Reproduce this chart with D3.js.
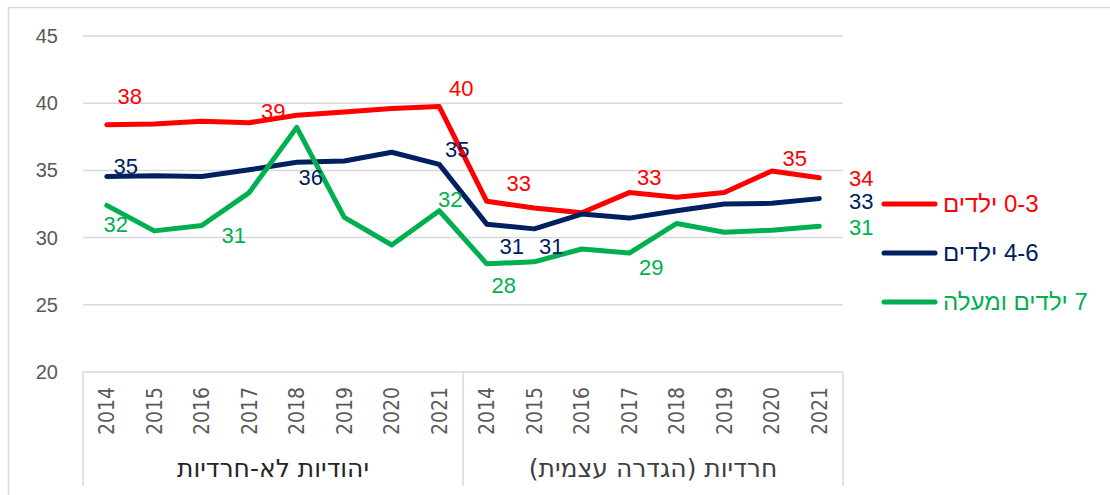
<!DOCTYPE html>
<html>
<head>
<meta charset="utf-8">
<script src="https://cdn.jsdelivr.net/npm/d3@7"></script>
<style>
  body { margin: 0; background: #fff; }
  svg { font-family: "Liberation Sans", Arial, sans-serif; }
</style>
</head>
<body>
<div id="chart"></div>
<script>
// data
var years = ["2014", "2015", "2016", "2017", "2018", "2019", "2020", "2021"];
var groups = ["יהודיות לא-חרדיות", "חרדיות (הגדרה עצמית)"];
var seriesNames = ["0-3 ילדים", "4-6 ילדים", "7 ילדים ומעלה"];
var kids03 = [38.4, 38.45, 38.65, 38.55, 39.1, 39.35, 39.6, 39.75, 32.7, 32.2, 31.85, 33.35, 33.0, 33.35, 34.95, 34.45];
var kids46 = [34.55, 34.6, 34.55, 35.05, 35.6, 35.7, 36.35, 35.45, 31.0, 30.65, 31.75, 31.45, 32.0, 32.5, 32.55, 32.9];
var kids7 = [32.4, 30.5, 30.9, 33.35, 38.2, 31.5, 29.45, 32.0, 28.05, 28.2, 29.15, 28.85, 31.05, 30.4, 30.55, 30.85];
// which points carry a data label
var labeled03 = [0, 3, 7, 8, 11, 14, 15];
var labeled46 = [0, 4, 7, 8, 9, 15];
var labeled7 = [0, 2, 7, 8, 11, 15];
var yTicks = [20, 25, 30, 35, 40, 45];

var width = 1110, height = 495;
var colors = ["#FF0000", "#002060", "#00B050"];

// label offsets from the point (px), by series and index
var offsets = [
  {0: [23, -28], 3: [24, -11], 7: [22, -18], 8: [32, -18], 11: [20, -15], 14: [23, -13], 15: [42, 1]},
  {0: [19, -10], 4: [14, 15], 7: [18, -15], 8: [25, 22], 9: [17, 17], 15: [42, 3]},
  {0: [9, 19], 2: [32, 10], 7: [11, -11], 8: [17, 21], 11: [22, 14], 15: [42, 1]}
];

var cats = [];
groups.forEach(function(g, gi) {
  years.forEach(function(y) { cats.push(gi + "-" + y); });
});

var x = d3.scaleBand().domain(cats).range([83, 843]);
var y = d3.scaleLinear().domain([20, 45]).range([372, 36]);
var cx = function(i) { return x(cats[i]) + x.bandwidth() / 2; };

var svg = d3.select("#chart").append("svg")
    .attr("width", width)
    .attr("height", height);

// chart border
svg.append("rect")
    .attr("x", 8.5).attr("y", 7.5)
    .attr("width", width).attr("height", height)
    .attr("fill", "none")
    .attr("stroke", "#D9D9D9")
    .attr("stroke-width", 1.5);

// gridlines
svg.append("g").selectAll("line")
    .data(yTicks.filter(function(t) { return t > 20; }))
  .enter().append("line")
    .attr("x1", 83).attr("x2", 843)
    .attr("y1", function(d) { return y(d); })
    .attr("y2", function(d) { return y(d); })
    .attr("stroke", "#D9D9D9")
    .attr("stroke-width", 1.5);

// y tick labels
svg.append("g").selectAll("text")
    .data(yTicks)
  .enter().append("text")
    .attr("x", 58)
    .attr("y", function(d) { return y(d); })
    .attr("dy", "0.35em")
    .attr("text-anchor", "end")
    .attr("fill", "#595959")
    .style("font-size", "20px")
    .text(function(d) { return d; });

// x axis frame
var axisG = svg.append("g").attr("stroke", "#D9D9D9").attr("stroke-width", 1.5);
axisG.append("line").attr("x1", 83).attr("x2", 843).attr("y1", y(20)).attr("y2", y(20));
[0, 8, 16].forEach(function(i) {
  var xx = i < 16 ? x(cats[i]) : x.range()[1];
  axisG.append("line").attr("x1", xx).attr("x2", xx).attr("y1", y(20)).attr("y2", 486);
});

// year labels
svg.append("g").selectAll("text")
    .data(cats)
  .enter().append("text")
    .attr("transform", function(d, i) { return "translate(" + cx(i) + ",387) rotate(-90)"; })
    .attr("text-anchor", "end")
    .attr("dy", "0.35em")
    .attr("fill", "#595959")
    .style("font-family", "'Liberation Sans Narrow', 'DejaVu Sans Condensed', sans-serif")
    .style("font-size", "21px")
    .text(function(d) { return d.split("-")[1]; });

// group labels
svg.append("g").selectAll("text")
    .data(groups)
  .enter().append("text")
    .attr("x", function(d, i) { return (x(cats[i * 8]) + (i === 0 ? x(cats[8]) : x.range()[1])) / 2; })
    .attr("y", 468)
    .attr("dy", "0.35em")
    .attr("text-anchor", "middle")
    .attr("fill", function(d, i) { return i === 0 ? "#262626" : "#404040"; })
    .style("direction", "rtl")
    .style("unicode-bidi", "embed")
    .style("font-family", "'DejaVu Sans', sans-serif")
    .style("font-size", "25px")
    .text(function(d) { return d; });

// lines
var line = d3.line()
    .x(function(d, i) { return cx(i); })
    .y(function(d) { return y(d); });

var allSeries = [kids03, kids46, kids7];
var allLabeled = [labeled03, labeled46, labeled7];

svg.append("g").selectAll("path")
    .data(allSeries)
  .enter().append("path")
    .attr("d", line)
    .attr("fill", "none")
    .attr("stroke", function(d, i) { return colors[i]; })
    .attr("stroke-width", 5)
    .attr("stroke-linejoin", "round")
    .attr("stroke-linecap", "round");

// data labels
allSeries.forEach(function(s, si) {
  svg.append("g").selectAll("text")
      .data(allLabeled[si])
    .enter().append("text")
      .attr("x", function(i) { return cx(i) + offsets[si][i][0]; })
      .attr("y", function(i) { return y(s[i]) + offsets[si][i][1]; })
      .attr("dy", "0.35em")
      .attr("text-anchor", "middle")
      .attr("fill", colors[si])
      .style("font-size", "22px")
      .text(function(i) { return Math.round(s[i]); });
});

// legend
var legend = svg.append("g").selectAll("g")
    .data(seriesNames)
  .enter().append("g")
    .attr("transform", function(d, i) { return "translate(0," + (204 + i * 49) + ")"; });

legend.append("line")
    .attr("x1", 884).attr("x2", 935)
    .attr("stroke", function(d, i) { return colors[i]; })
    .attr("stroke-width", 5)
    .attr("stroke-linecap", "round");

legend.append("text")
    .attr("x", 943)
    .attr("dy", "0.35em")
    .attr("text-anchor", "end")
    .style("direction", "rtl")
    .style("unicode-bidi", "embed")
    .attr("fill", function(d, i) { return colors[i]; })
    .style("font-size", "24px")
    .text(function(d) { return d; });
</script>
</body>
</html>
